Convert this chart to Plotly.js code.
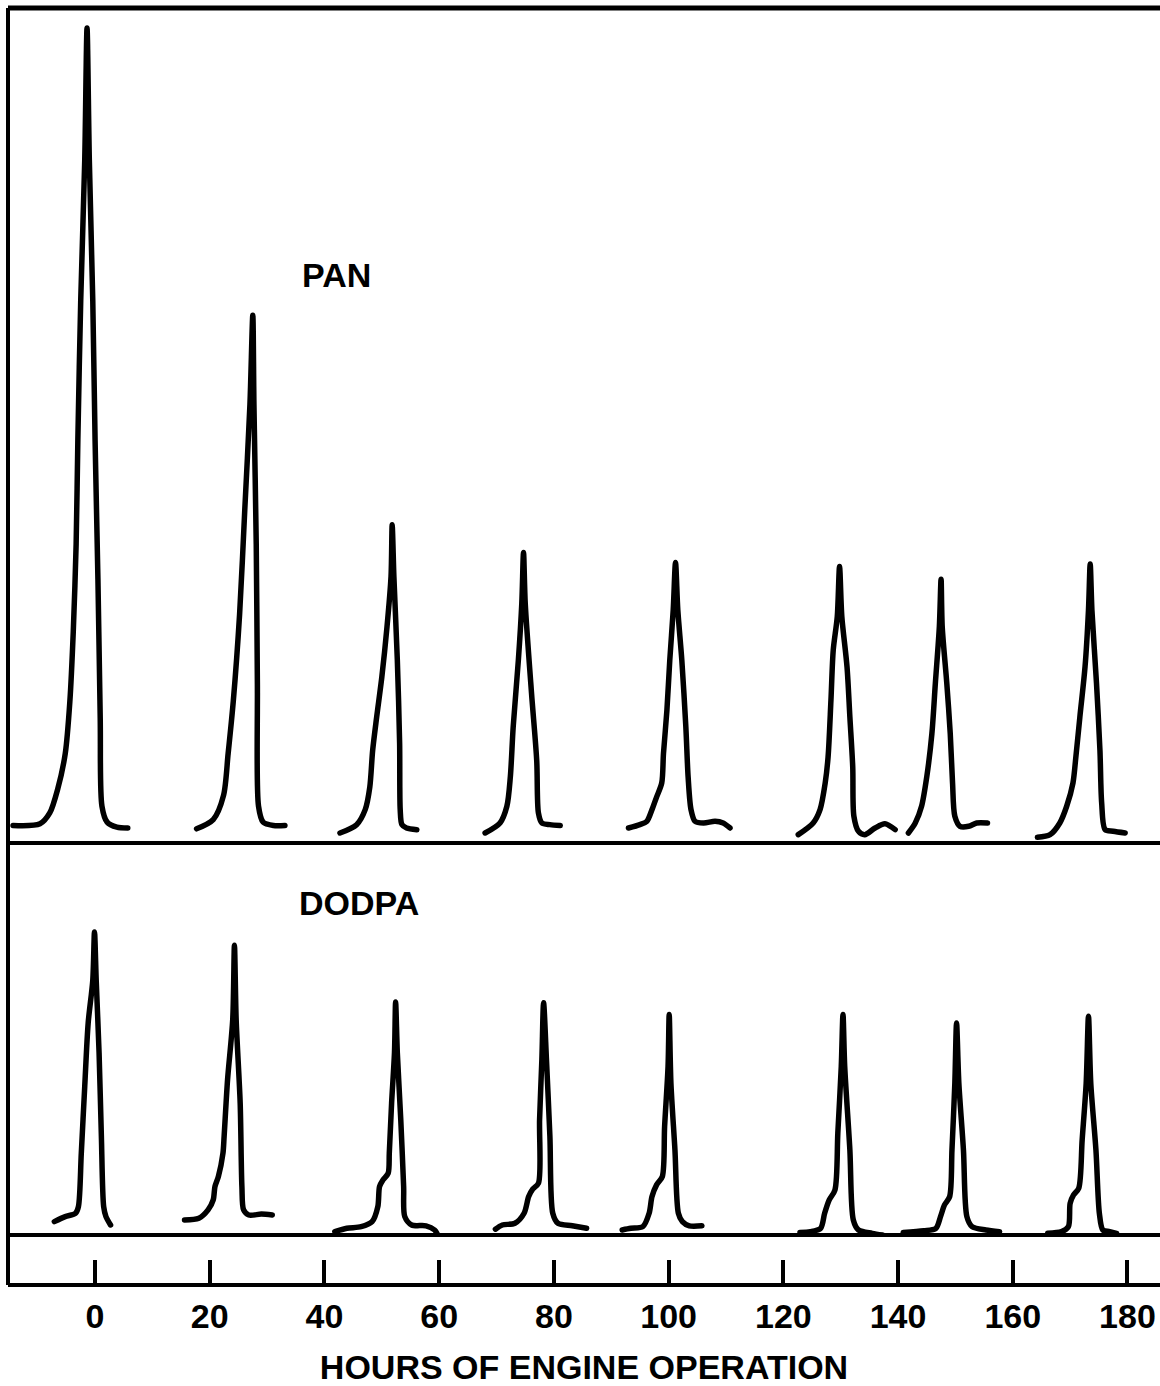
<!DOCTYPE html>
<html>
<head>
<meta charset="utf-8">
<script src="https://cdn.plot.ly/plotly-3.0.1.min.js"></script>
<style>
  html, body { margin: 0; padding: 0; background: #ffffff; overflow: hidden; }
  #chart { width: 1160px; height: 1386px; }
  #chart .scatterlayer path.js-line { stroke-linecap: round; stroke-linejoin: round; }
</style>
</head>
<body>
<div id="chart"></div>
<script>
// ---- Data (x: hours of engine operation, y: detector response, arbitrary units) ----
const tickHours = [0, 20, 40, 60, 80, 100, 120, 140, 160, 180];
const panelLabels = ["PAN", "DODPA"];
const xAxisTitle = "HOURS OF ENGINE OPERATION";

// PAN peaks (upper panel)
const pan1X = [-14.3, -9.6, -7.9, -6.5, -5.2, -4.4, -3.8, -3.3, -3.0, -2.5, -1.8, -1.4, -1.0, -0.4, 0.0, 0.5, 0.9, 1.2, 2.1, 3.8, 5.7];
const pan1Y = [2.1, 2.3, 3.6, 6.5, 10.7, 16.9, 25.3, 35.8, 48.3, 65.0, 81.8, 97.6, 81.8, 65.0, 48.3, 31.6, 14.9, 4.4, 2.5, 1.9, 1.8];
const pan2X = [17.7, 20.6, 22.4, 23.2, 24.1, 25.2, 26.1, 27.0, 27.5, 27.7, 28.1, 28.3, 28.5, 29.3, 31.1, 33.1];
const pan2Y = [1.7, 2.8, 5.7, 10.7, 17.0, 27.4, 39.9, 52.5, 63.2, 52.5, 35.8, 19.0, 4.4, 2.5, 2.1, 2.1];
const pan3X = [42.7, 45.6, 47.1, 47.9, 48.4, 49.1, 50.0, 50.9, 51.6, 51.8, 52.1, 52.7, 53.1, 53.2, 53.5, 54.3, 56.1];
const pan3Y = [1.2, 2.2, 4.0, 6.7, 11.1, 15.1, 19.9, 25.9, 31.9, 38.1, 31.9, 21.9, 11.9, 4.0, 2.2, 1.8, 1.6];
const pan4X = [68.0, 70.6, 71.8, 72.4, 72.9, 73.8, 74.4, 74.7, 75.0, 76.1, 77.0, 77.3, 77.9, 79.3, 81.1];
const pan4Y = [1.2, 2.4, 4.4, 7.9, 13.9, 21.9, 28.7, 34.8, 28.7, 17.9, 9.9, 3.6, 2.4, 2.2, 2.1];
const pan5X = [93.0, 95.0, 96.2, 97.1, 97.9, 98.8, 99.1, 99.7, 100.2, 100.8, 101.2, 101.6, 102.3, 103.0, 103.4, 103.9, 104.6, 106.1, 108.1, 109.5, 110.7];
const pan5Y = [1.8, 2.2, 2.6, 4.0, 5.5, 7.2, 10.7, 15.9, 21.9, 27.9, 33.6, 27.9, 21.9, 13.9, 7.9, 4.0, 2.6, 2.4, 2.6, 2.4, 1.8];
const pan6X = [122.6, 125.2, 126.4, 127.3, 127.8, 128.3, 128.7, 129.4, 129.8, 130.2, 131.1, 131.6, 132.1, 132.3, 133.1, 134.2, 136.0, 137.7, 139.5];
const pan6Y = [1.0, 2.4, 4.0, 7.2, 10.3, 17.1, 23.1, 27.1, 33.1, 27.1, 21.1, 15.1, 9.1, 3.2, 1.4, 1.0, 1.8, 2.3, 1.6];
const pan7X = [141.8, 143.0, 144.1, 145.0, 145.9, 146.5, 147.2, 147.5, 147.7, 148.5, 149.1, 149.5, 149.9, 150.8, 152.3, 153.7, 155.6];
const pan7Y = [1.2, 2.4, 4.4, 7.9, 13.1, 19.1, 25.9, 31.6, 25.9, 19.1, 13.1, 7.2, 3.2, 2.0, 2.0, 2.4, 2.4];
const pan8X = [164.3, 166.5, 168.2, 169.4, 170.5, 171.0, 171.7, 172.6, 173.2, 173.5, 173.8, 174.6, 175.2, 175.5, 176.1, 177.5, 179.6];
const pan8Y = [0.7, 1.0, 2.4, 4.4, 7.2, 10.3, 15.1, 21.1, 27.9, 33.4, 27.9, 19.1, 11.1, 4.8, 1.6, 1.4, 1.2];

// DODPA peaks (lower panel)
const dod1X = [-7.1, -5.2, -3.4, -2.9, -2.4, -1.8, -1.2, -0.4, -0.1, 0.2, 0.7, 1.1, 1.5, 1.9, 2.7];
const dod1Y = [1.6, 2.2, 2.6, 3.4, 9.8, 17.8, 25.4, 30.5, 36.3, 30.5, 21.8, 11.8, 3.4, 2.2, 1.2];
const dod2X = [15.6, 18.1, 19.7, 20.6, 20.9, 21.5, 22.3, 22.5, 23.1, 24.0, 24.3, 24.6, 25.3, 25.6, 25.9, 26.8, 29.0, 30.9];
const dod2Y = [1.8, 2.0, 3.0, 4.2, 5.8, 7.0, 9.8, 11.8, 18.6, 25.8, 34.7, 25.8, 15.8, 5.8, 3.0, 2.4, 2.5, 2.4];
const dod3X = [41.8, 43.9, 46.4, 48.3, 49.3, 49.6, 50.2, 51.1, 51.3, 51.7, 52.2, 52.4, 52.7, 53.3, 53.8, 54.0, 55.2, 57.7, 59.2, 59.6];
const dod3Y = [0.4, 0.8, 1.0, 1.6, 3.4, 5.8, 6.6, 7.4, 9.8, 15.8, 21.8, 27.9, 21.8, 13.8, 5.8, 2.2, 1.2, 1.1, 0.6, 0.2];
const dod4X = [69.8, 71.0, 73.2, 74.8, 75.6, 76.3, 77.3, 77.5, 77.9, 78.2, 78.7, 79.3, 79.8, 80.7, 83.2, 85.7];
const dod4Y = [0.7, 1.2, 1.4, 2.6, 4.6, 5.5, 6.2, 13.8, 21.0, 27.8, 21.0, 11.8, 2.6, 1.4, 1.1, 0.8];
const dod5X = [91.9, 93.4, 95.5, 96.6, 97.1, 97.9, 98.9, 99.3, 99.9, 100.1, 100.4, 101.1, 101.7, 102.4, 103.6, 105.8];
const dod5Y = [0.6, 0.8, 1.0, 2.6, 4.6, 6.0, 7.0, 13.0, 20.2, 26.4, 18.2, 10.2, 2.6, 1.6, 1.1, 1.1];
const dod6X = [122.9, 124.7, 126.5, 127.2, 128.0, 129.0, 129.5, 130.1, 130.4, 130.7, 131.6, 132.2, 133.1, 135.5, 137.3];
const dod6Y = [0.3, 0.4, 0.8, 2.6, 4.2, 5.4, 12.2, 20.2, 26.4, 20.2, 10.2, 1.8, 0.6, 0.2, 0.0];
const dod7X = [140.9, 144.5, 146.6, 147.4, 148.1, 149.0, 149.4, 149.9, 150.2, 150.6, 151.4, 152.0, 152.9, 155.3, 157.7];
const dod7Y = [0.3, 0.5, 0.8, 2.2, 3.6, 4.6, 10.2, 18.2, 25.4, 18.2, 10.2, 2.2, 1.0, 0.6, 0.4];
const dod8X = [166.1, 168.5, 169.7, 170.0, 170.6, 171.5, 172.1, 172.8, 173.2, 173.6, 174.5, 175.1, 175.7, 176.9, 178.1];
const dod8Y = [0.2, 0.4, 1.0, 3.8, 4.8, 5.6, 11.4, 18.2, 26.2, 18.2, 10.2, 2.6, 0.6, 0.4, 0.2];

const panPeaks = [[pan1X, pan1Y], [pan2X, pan2Y], [pan3X, pan3Y], [pan4X, pan4Y],
                  [pan5X, pan5Y], [pan6X, pan6Y], [pan7X, pan7Y], [pan8X, pan8Y]];
const dodPeaks = [[dod1X, dod1Y], [dod2X, dod2Y], [dod3X, dod3Y], [dod4X, dod4Y],
                  [dod5X, dod5Y], [dod6X, dod6Y], [dod7X, dod7Y], [dod8X, dod8Y]];

// ---- Layout ----
const W = 1160, H = 1386;
const mL = 8, mR = 0, mT = 8, mB = 101;
const plotH = H - mT - mB;              // 1277
const yDiv1 = (1285 - 843) / plotH;      // boundary between PAN and DODPA panels
const yDiv2 = (1285 - 1235) / plotH;     // boundary between DODPA panel and tick strip

const lineStyle = { color: '#000000', width: 5.5, shape: 'spline', smoothing: 0.8 };
const traces = [];
panPeaks.forEach(p => traces.push({ x: p[0], y: p[1], xaxis: 'x', yaxis: 'y', type: 'scatter', mode: 'lines', line: lineStyle, hoverinfo: 'skip' }));
dodPeaks.forEach(p => traces.push({ x: p[0], y: p[1], xaxis: 'x', yaxis: 'y2', type: 'scatter', mode: 'lines', line: lineStyle, hoverinfo: 'skip' }));

const font = { family: 'Liberation Sans, Arial, Helvetica, sans-serif', color: '#000000', weight: 'bold' };
const fnt = s => Object.assign({}, font, { size: s });

const frameLine = { color: '#000000', width: 4 };
const layout = {
  width: W, height: H,
  margin: { l: mL, r: mR, t: mT, b: mB, pad: 0 },
  paper_bgcolor: '#ffffff', plot_bgcolor: '#ffffff',
  showlegend: false,
  xaxis: {
    range: [-15.18, 185.67],
    anchor: 'free', position: 0,
    tickmode: 'array', tickvals: tickHours, ticktext: tickHours.map(String),
    ticks: 'inside', ticklen: 23, tickwidth: 4, tickcolor: '#000000',
    showline: true, linecolor: '#000000', linewidth: 4,
    showgrid: false, zeroline: false,
    tickfont: fnt(34), ticklabelstandoff: 0,
    title: { text: xAxisTitle, font: fnt(34), standoff: 20 },
    automargin: false, fixedrange: true
  },
  yaxis: {
    domain: [yDiv1, 1], range: [0, 100],
    visible: false, showgrid: false, zeroline: false, fixedrange: true
  },
  yaxis2: {
    domain: [yDiv2, yDiv1], range: [0, (1235 - 843) / 8.35],
    visible: false, showgrid: false, zeroline: false, fixedrange: true
  },
  shapes: [
    { type: 'line', xref: 'paper', yref: 'paper', x0: 0, x1: 0, y0: 0, y1: 1, line: frameLine },
    { type: 'line', xref: 'paper', yref: 'paper', x0: 0, x1: 1.01, y0: 1, y1: 1, line: { color: '#000000', width: 5 } },
    { type: 'line', xref: 'paper', yref: 'paper', x0: 0, x1: 1.01, y0: yDiv1, y1: yDiv1, line: frameLine },
    { type: 'line', xref: 'paper', yref: 'paper', x0: 0, x1: 1.01, y0: yDiv2, y1: yDiv2, line: frameLine }
  ],
  annotations: [
    { text: panelLabels[0], xref: 'paper', yref: 'paper', x: (300 - mL) / 1152, y: (1285 - 275) / plotH,
      xanchor: 'left', yanchor: 'middle', showarrow: false, font: fnt(34) },
    { text: panelLabels[1], xref: 'paper', yref: 'paper', x: (297 - mL) / 1152, y: (1285 - 903) / plotH,
      xanchor: 'left', yanchor: 'middle', showarrow: false, font: fnt(34) }
  ]
};

Plotly.newPlot('chart', traces, layout, { staticPlot: true, displayModeBar: false });
</script>
</body>
</html>
